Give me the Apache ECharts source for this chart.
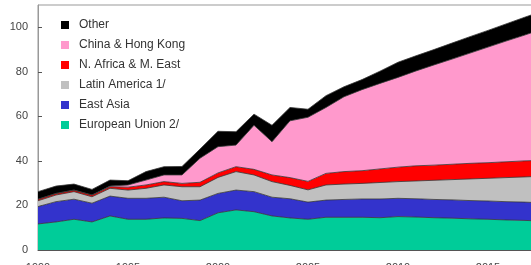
<!DOCTYPE html>
<html>
<head>
<meta charset="utf-8">
<script src="https://cdn.jsdelivr.net/npm/echarts@6/dist/echarts.min.js"></script>
<style>
  html, body { margin: 0; padding: 0; background: #fff; overflow: hidden; }
  #chart { width: 600px; height: 280px; }
</style>
</head>
<body>
<div id="chart"></div>
<script>
const years = [
  "1990", "1991", "1992", "1993", "1994", "1995", "1996", "1997", "1998", "1999",
  "2000", "2001", "2002", "2003", "2004", "2005", "2006", "2007", "2008", "2009",
  "2010", "2011", "2012", "2013", "2014", "2015", "2016", "2017", "2018",
];

const europeanUnion = [
  11.7, 12.6, 13.8, 12.6, 15.3, 13.8, 13.8, 14.4, 14.2, 13.2,
  16.7, 18.0, 17.2, 15.3, 14.4, 13.8, 14.7, 14.7, 14.7, 14.5,
  15.0, 14.8, 14.5, 14.3, 14.0, 13.8, 13.5, 13.3, 13.0,
];
const eastAsia = [
  7.8, 9.1, 9.0, 8.4, 8.9, 9.4, 9.4, 9.3, 7.9, 9.2,
  8.7, 8.9, 9.0, 8.4, 8.6, 7.7, 7.7, 8.0, 8.2, 8.4,
  8.2, 8.2, 8.2, 8.2, 8.2, 8.2, 8.2, 8.2, 8.2,
];
const latinAmerica = [
  2.6, 3.0, 3.4, 2.9, 3.5, 3.7, 4.5, 5.5, 6.3, 6.0,
  7.2, 8.3, 7.5, 7.0, 6.0, 5.5, 6.8, 6.9, 7.0, 7.4,
  7.5, 8.0, 8.6, 9.1, 9.7, 10.2, 10.8, 11.3, 11.9,
];
const nAfricaMEast = [
  0.7, 0.7, 0.7, 0.8, 0.7, 1.3, 1.5, 1.5, 1.5, 2.0,
  2.0, 2.2, 2.5, 3.0, 3.5, 3.8, 5.2, 5.6, 5.7, 6.1,
  6.5, 6.8, 6.8, 6.9, 7.0, 7.0, 7.1, 7.2, 7.2,
];
const chinaHongKong = [
  0, 0, 0, 0, 0.3, 1.0, 2.2, 3.0, 3.8, 10.8,
  11.8, 9.7, 19.8, 14.9, 25.5, 28.8, 29.6, 33.6, 36.4, 38.4,
  40.3, 42.6, 45.0, 47.2, 49.5, 51.9, 54.2, 56.4, 58.8,
];
const other = [
  3.4, 3.3, 2.7, 2.5, 2.7, 1.9, 3.8, 3.7, 3.8, 4.1,
  6.9, 6.0, 5.0, 7.4, 6.0, 3.6, 5.3, 4.5, 4.5, 5.5,
  6.8, 6.8, 6.9, 7.2, 7.4, 7.5, 7.7, 8.0, 8.1,
];

const font = "'Liberation Sans', Arial, sans-serif";

function layer(name, data, color) {
  return {
    name,
    type: "line",
    stack: "total",
    data,
    symbol: "none",
    lineStyle: { width: 0.8, color: "#333" },
    itemStyle: { color },
    areaStyle: { color, opacity: 1 },
  };
}

const chart = echarts.init(document.getElementById("chart"));
chart.setOption({
  animation: false,
  grid: { left: 38, top: 5, width: 504, height: 245, show: true, borderColor: "#999", borderWidth: 1 },
  legend: {
    orient: "vertical",
    left: 56,
    top: 14,
    icon: "rect",
    itemWidth: 8,
    itemHeight: 8,
    itemGap: 8,
    textStyle: { fontFamily: font, fontSize: 12, color: "#333", padding: [0, 0, 0, 5] },
    data: ["Other", "China & Hong Kong", "N. Africa & M. East", "Latin America 1/", "East Asia", "European Union 2/"],
  },
  xAxis: {
    type: "category",
    data: years,
    boundaryGap: false,
    axisLine: { lineStyle: { color: "#555", width: 1 } },
    axisTick: { inside: true, length: 4, interval: 4, lineStyle: { color: "#333" } },
    axisLabel: { interval: 4, margin: 12, fontFamily: font, fontSize: 11, color: "#444" },
  },
  yAxis: {
    type: "value",
    min: 0,
    max: 110,
    interval: 20,
    splitLine: { show: false },
    axisLine: { show: true, lineStyle: { color: "#999", width: 1 } },
    axisTick: { show: true, inside: true, length: 4, lineStyle: { color: "#555" } },
    axisLabel: { showMaxLabel: false, margin: 10, fontFamily: font, fontSize: 11, color: "#444" },
  },
  series: [
    layer("European Union 2/", europeanUnion, "#00cc99"),
    layer("East Asia", eastAsia, "#3333cc"),
    layer("Latin America 1/", latinAmerica, "#c0c0c0"),
    layer("N. Africa & M. East", nAfricaMEast, "#ff0000"),
    layer("China & Hong Kong", chinaHongKong, "#ff99cc"),
    layer("Other", other, "#000000"),
  ],
});
</script>
</body>
</html>
